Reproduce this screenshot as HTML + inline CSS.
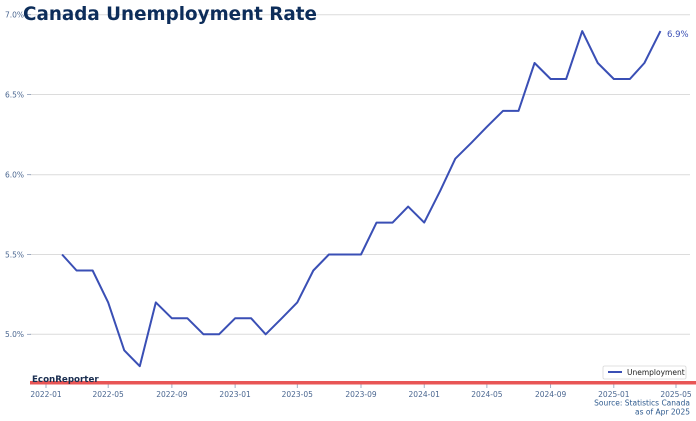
<!DOCTYPE html>
<html><head><meta charset="utf-8"><style>
html,body{margin:0;padding:0;background:#fff;width:696px;height:421px;overflow:hidden}
svg{display:block}
text{font-family:"DejaVu Sans","Liberation Sans",sans-serif}
</style></head><body>
<svg width="696" height="421" viewBox="0 0 696 421" xmlns="http://www.w3.org/2000/svg">
<g stroke="#dcdcdc" stroke-width="1">
<line x1="30" y1="14.7" x2="690" y2="14.7"/>
<line x1="30" y1="94.5" x2="690" y2="94.5"/>
<line x1="30" y1="174.7" x2="690" y2="174.7"/>
<line x1="30" y1="254.5" x2="690" y2="254.5"/>
<line x1="30" y1="334.3" x2="690" y2="334.3"/>
</g>
<g stroke="#8a9ab5" stroke-width="0.8">
<line x1="27" y1="14.7" x2="31" y2="14.7"/>
<line x1="27" y1="94.5" x2="31" y2="94.5"/>
<line x1="27" y1="174.7" x2="31" y2="174.7"/>
<line x1="27" y1="254.5" x2="31" y2="254.5"/>
<line x1="27" y1="334.3" x2="31" y2="334.3"/>
</g>
<g fill="#4a6690" font-size="7.5" text-anchor="end">
<text x="24" y="17.5">7.0%</text>
<text x="24" y="97.3">6.5%</text>
<text x="24" y="177.5">6.0%</text>
<text x="24" y="257.3">5.5%</text>
<text x="24" y="337.1">5.0%</text>
</g>
<text x="23" y="20" font-size="19" font-weight="bold" fill="#0d2d5a" textLength="294" lengthAdjust="spacingAndGlyphs">Canada Unemployment Rate</text>
<polyline fill="none" stroke="#3a4fb5" stroke-width="2" stroke-linejoin="round" points="62.06,254.5 76.57,270.5 92.63,270.5 108.17,302.4 124.23,350.3 139.77,366.2 155.83,302.4 171.9,318.3 187.44,318.3 203.5,334.3 219.04,334.3 235.1,318.3 251.16,318.3 265.67,334.3 281.73,318.3 297.27,302.4 313.33,270.5 328.87,254.5 344.94,254.5 361,254.5 376.54,222.6 392.6,222.6 408.14,206.6 424.21,222.6 440.27,190.7 455.29,158.7 471.35,142.8 486.89,126.8 502.95,110.9 518.5,110.9 534.56,63 550.62,79 566.16,79 582.22,31.1 597.77,63 613.83,79 629.89,79 644.39,63 660.45,31.1"/>
<text x="667" y="37" font-size="8.5" fill="#3a4fb5">6.9%</text>
<rect x="603" y="366" width="83" height="13" fill="#fff" stroke="#d8d8d8" stroke-width="0.8" rx="1.5"/>
<line x1="608" y1="372" x2="622" y2="372" stroke="#3a4fb5" stroke-width="2"/>
<text x="627" y="374.8" font-size="7.5" fill="#222">Unemployment</text>
<rect x="30" y="381" width="666" height="3.5" fill="#e85555"/>
<text x="32" y="382" font-size="8.7" font-weight="bold" fill="#1a2e50">EconReporter</text>
<g stroke="#8a9ab5" stroke-width="0.8">
<line x1="46" y1="384.5" x2="46" y2="388"/>
<line x1="108.17" y1="384.5" x2="108.17" y2="388"/>
<line x1="171.9" y1="384.5" x2="171.9" y2="388"/>
<line x1="235.1" y1="384.5" x2="235.1" y2="388"/>
<line x1="297.27" y1="384.5" x2="297.27" y2="388"/>
<line x1="361" y1="384.5" x2="361" y2="388"/>
<line x1="424.21" y1="384.5" x2="424.21" y2="388"/>
<line x1="486.89" y1="384.5" x2="486.89" y2="388"/>
<line x1="550.62" y1="384.5" x2="550.62" y2="388"/>
<line x1="613.83" y1="384.5" x2="613.83" y2="388"/>
<line x1="676" y1="384.5" x2="676" y2="388"/>
</g>
<g fill="#4a6690" font-size="7.5" text-anchor="middle">
<text x="46" y="397">2022-01</text>
<text x="108.17" y="397">2022-05</text>
<text x="171.9" y="397">2022-09</text>
<text x="235.1" y="397">2023-01</text>
<text x="297.27" y="397">2023-05</text>
<text x="361" y="397">2023-09</text>
<text x="424.21" y="397">2024-01</text>
<text x="486.89" y="397">2024-05</text>
<text x="550.62" y="397">2024-09</text>
<text x="613.83" y="397">2025-01</text>
<text x="676" y="397">2025-05</text>
</g>
<g fill="#2e5a8e" font-size="7.5" text-anchor="end">
<text x="690" y="405.5">Source: Statistics Canada</text>
<text x="690" y="414.5">as of Apr 2025</text>
</g>
</svg>
</body></html>
